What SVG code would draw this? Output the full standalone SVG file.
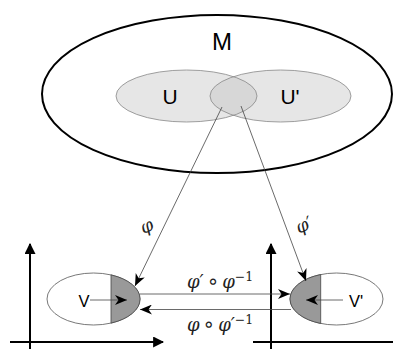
<svg xmlns="http://www.w3.org/2000/svg" width="393" height="349" viewBox="0 0 393 349">
<style>
.lbl{font-family:"Liberation Sans",Arial,sans-serif;fill:#000}
.math{font-family:"DejaVu Serif","Liberation Serif",serif;font-style:italic;font-size:18px;fill:#222}
.sup{font-size:12.5px;font-style:normal}
.op{font-family:"DejaVu Sans",sans-serif;font-style:normal;font-size:20px}
.thin{fill:none;stroke:#444;stroke-width:0.8}
.axis{fill:none;stroke:#000;stroke-width:2}
</style>
<defs>
<marker id="barb" viewBox="0 0 12 10" refX="12" refY="5" markerWidth="12" markerHeight="10" markerUnits="userSpaceOnUse" orient="auto">
<path d="M0,0 L12,5 L0,10 L3.5,5 Z" fill="#000"/>
</marker>
<marker id="tri" viewBox="0 0 10 10" refX="9" refY="5" markerWidth="11" markerHeight="11" markerUnits="userSpaceOnUse" orient="auto">
<path d="M0,0 L10,5 L0,10 Z" fill="#000"/>
</marker>
<clipPath id="clipU"><ellipse cx="186.5" cy="96" rx="70.5" ry="26"/></clipPath>
</defs>
<g id="M">
<ellipse cx="217" cy="94" rx="175" ry="79" fill="#fff" stroke="#000" stroke-width="2"/>
<text class="lbl" x="222" y="50" font-size="24" text-anchor="middle">M</text>
</g>
<g id="U">
<ellipse cx="186.5" cy="96" rx="70.5" ry="26" fill="#e6e6e6"/>
</g>
<g id="Uprime">
<ellipse cx="280.5" cy="96" rx="70.5" ry="26" fill="#e6e6e6"/>
<ellipse cx="280.5" cy="96" rx="70.5" ry="26" fill="#d7d7d7" clip-path="url(#clipU)"/>
<ellipse cx="186.5" cy="96" rx="70.5" ry="26" fill="none" stroke="#888" stroke-width="0.8"/>
<ellipse cx="280.5" cy="96" rx="70.5" ry="26" fill="none" stroke="#888" stroke-width="0.8"/>
<text class="lbl" x="170" y="104" font-size="21" text-anchor="middle">U</text>
<text class="lbl" x="290" y="104" font-size="21" text-anchor="middle">U'</text>
</g>
<g id="axesLeft">
<line class="axis" x1="30" y1="349" x2="30" y2="244" marker-end="url(#tri)"/>
<line class="axis" x1="10" y1="342" x2="163" y2="342" marker-end="url(#tri)"/>
</g>
<g id="axesRight">
<line class="axis" x1="271" y1="349" x2="271" y2="244" marker-end="url(#tri)"/>
<line class="axis" x1="253" y1="342" x2="393" y2="342"/>
</g>
<g id="V">
<ellipse cx="93.5" cy="299" rx="46.5" ry="26" fill="#fff" stroke="#555" stroke-width="0.8"/>
<path d="M111,274.9 A46.5,26 0 0 1 111,323.1 Z" fill="#999" stroke="#444" stroke-width="0.8"/>
<text class="lbl" x="84" y="307" font-size="16.5" text-anchor="middle">V</text>
<line class="thin" x1="90" y1="300" x2="127" y2="300" marker-end="url(#barb)"/>
</g>
<g id="Vprime">
<ellipse cx="336.5" cy="299" rx="46.5" ry="26" fill="#fff" stroke="#555" stroke-width="0.8"/>
<path d="M320.7,274.55 A46.5,26 0 0 0 320.7,323.45 Z" fill="#999" stroke="#444" stroke-width="0.8"/>
<text class="lbl" x="356" y="307" font-size="16.5" text-anchor="middle">V'</text>
<line class="thin" x1="343" y1="300" x2="306" y2="300" marker-end="url(#barb)"/>
</g>
<g id="connectors">
<line class="thin" x1="222" y1="107" x2="135" y2="286" marker-end="url(#barb)"/>
<line class="thin" x1="241" y1="106" x2="306" y2="281" marker-end="url(#barb)"/>
<line class="thin" x1="140" y1="294" x2="290" y2="294" marker-end="url(#barb)"/>
<line class="thin" x1="291" y1="309.5" x2="140" y2="309.5" marker-end="url(#barb)"/>
<text class="math" x="147" y="232" text-anchor="middle" transform="rotate(-25 147 227)">φ</text>
<text class="math" x="304" y="231" text-anchor="middle" transform="rotate(-25 304 225)">φ′</text>
<text class="math" x="187" y="288">φ′<tspan class="op" dx="3">∘</tspan><tspan dx="3">φ</tspan><tspan class="sup" dy="-7">−1</tspan></text>
<text class="math" x="187" y="331">φ<tspan class="op" dx="3">∘</tspan><tspan dx="3">φ′</tspan><tspan class="sup" dy="-7">−1</tspan></text>
</g>
</svg>
